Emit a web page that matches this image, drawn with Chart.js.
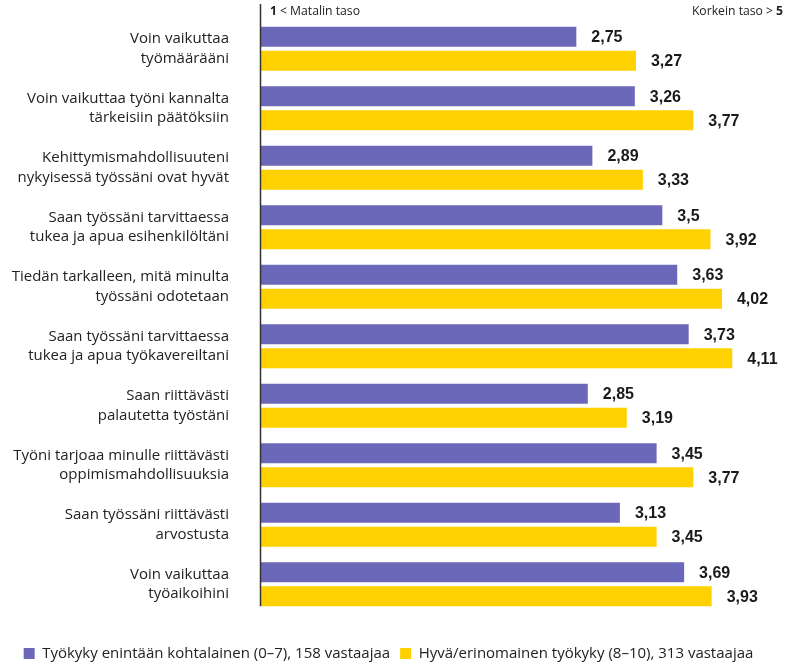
<!DOCTYPE html>
<html>
<head>
<meta charset="utf-8">
<script src="https://cdn.jsdelivr.net/npm/chart.js@4/dist/chart.umd.min.js"></script>
<style>
html,body{margin:0;padding:0;background:#fff;}
#wrap{width:787px;height:665px;position:relative;}
</style>
</head>
<body>
<div id="wrap"><canvas id="c" width="787" height="665"></canvas></div>
<script>
const categories = [
  ["Voin vaikuttaa", "työmäärääni"],
  ["Voin vaikuttaa työni kannalta", "tärkeisiin päätöksiin"],
  ["Kehittymismahdollisuuteni", "nykyisessä työssäni ovat hyvät"],
  ["Saan työssäni tarvittaessa", "tukea ja apua esihenkilöltäni"],
  ["Tiedän tarkalleen, mitä minulta", "työssäni odotetaan"],
  ["Saan työssäni tarvittaessa", "tukea ja apua työkavereiltani"],
  ["Saan riittävästi", "palautetta työstäni"],
  ["Työni tarjoaa minulle riittävästi", "oppimismahdollisuuksia"],
  ["Saan työssäni riittävästi", "arvostusta"],
  ["Voin vaikuttaa", "työaikoihini"]
];
const seriesNames = [
  "Työkyky enintään kohtalainen (0–7), 158 vastaajaa",
  "Hyvä/erinomainen työkyky (8–10), 313 vastaajaa"
];
const lowAbility = [2.75, 3.26, 2.89, 3.5, 3.63, 3.73, 2.85, 3.45, 3.13, 3.69];
const goodAbility = [3.27, 3.77, 3.33, 3.92, 4.02, 4.11, 3.19, 3.77, 3.45, 3.93];
const scaleLabels = ["1", "< Matalin taso", "Korkein taso >", "5"];

const PURPLE = "#6B67B9";
const YELLOW = "#FFD100";
const FONT = "'Open Sans', 'Noto Sans', sans-serif";

const fmt = v => String(v).replace(".", ",");

const valueLabels = {
  id: "valueLabels",
  afterDatasetsDraw(chart) {
    const ctx = chart.ctx;
    ctx.save();
    ctx.font = "bold 16px 'Liberation Sans', Arial, sans-serif";
    ctx.fillStyle = "#1a1a1a";
    ctx.textBaseline = "middle";
    ctx.textAlign = "left";
    chart.data.datasets.forEach((ds, i) => {
      const meta = chart.getDatasetMeta(i);
      meta.data.forEach((bar, j) => {
        ctx.fillText(fmt(ds.data[j]), bar.x + 15, bar.y + 1);
      });
    });
    ctx.restore();
  }
};

const axisDecor = {
  id: "axisDecor",
  afterDraw(chart) {
    const ctx = chart.ctx;
    const area = chart.chartArea;
    const metaLast = chart.getDatasetMeta(1);
    const lastBar = metaLast.data[metaLast.data.length - 1];
    const bottom = lastBar.y + lastBar.height / 2;
    ctx.save();
    ctx.strokeStyle = "#333";
    ctx.lineWidth = 1.5;
    ctx.beginPath();
    ctx.moveTo(area.left - 0.5, 4);
    ctx.lineTo(area.left - 0.5, bottom);
    ctx.stroke();

    const y = 12;
    const fs = "12.2px ";
    ctx.textBaseline = "middle";
    ctx.fillStyle = "#222";
    ctx.textAlign = "left";
    ctx.font = "bold " + fs + FONT;
    let x = area.left + 9;
    ctx.fillText(scaleLabels[0], x, y);
    x += ctx.measureText(scaleLabels[0]).width + 3;
    ctx.font = fs + FONT;
    ctx.fillText(scaleLabels[1], x, y);
    ctx.textAlign = "right";
    ctx.font = "bold " + fs + FONT;
    let rx = 783;
    ctx.fillText(scaleLabels[3], rx, y);
    rx -= ctx.measureText(scaleLabels[3]).width + 3;
    ctx.font = fs + FONT;
    ctx.fillText(scaleLabels[2], rx, y);
    ctx.restore();
  }
};

new Chart(document.getElementById("c"), {
  type: "bar",
  data: {
    labels: categories,
    datasets: [
      { label: seriesNames[0], data: lowAbility, backgroundColor: PURPLE, borderWidth: 0 },
      { label: seriesNames[1], data: goodAbility, backgroundColor: YELLOW, borderWidth: 0 }
    ]
  },
  options: {
    indexAxis: "y",
    responsive: false,
    animation: false,
    devicePixelRatio: 1,
    categoryPercentage: 0.805,
    barPercentage: 0.833,
    layout: { padding: { top: 19, right: 10, left: 0, bottom: -6 } },
    scales: {
      x: {
        display: true, min: 0, max: 4.5,
        grid: { display: false, drawTicks: false },
        border: { display: false },
        ticks: { display: false },
        afterFit(scale) { scale.height = 22; }
      },
      y: {
        grid: { display: false, drawTicks: true, tickLength: 30 },
        border: { display: false },
        afterFit(scale) { scale.width = 261; scale.paddingTop = 0; scale.paddingBottom = 0; },
        ticks: {
          padding: 2,
          color: "#222",
          font: { family: FONT, size: 15, lineHeight: 1.33 }
        }
      }
    },
    plugins: {
      legend: {
        position: "bottom",
        labels: {
          boxWidth: 11,
          boxHeight: 11,
          padding: 10,
          color: "#222",
          font: { family: FONT, size: 15 }
        }
      },
      tooltip: { enabled: false }
    }
  },
  plugins: [valueLabels, axisDecor]
});
</script>
</body>
</html>
